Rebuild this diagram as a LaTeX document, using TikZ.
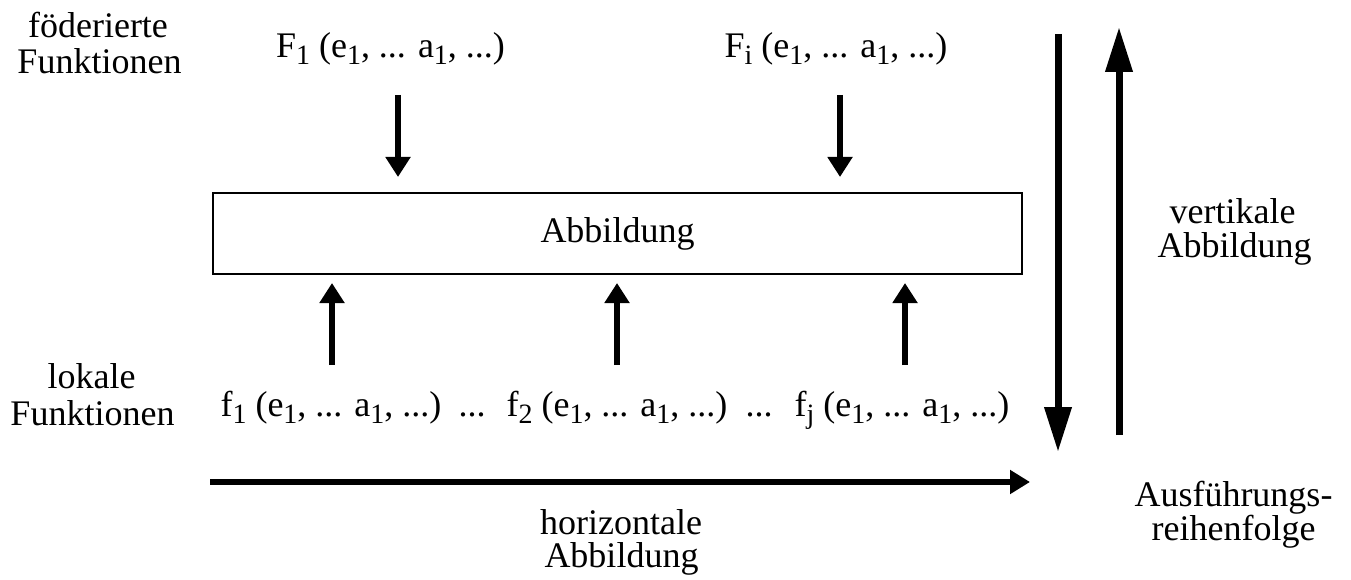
\documentclass[tikz,border=0pt]{standalone}
\usepackage{fontspec}
\setmainfont{Liberation Serif}
\usetikzlibrary{arrows.meta}
\newcommand{\sbs}[1]{\raisebox{-7pt}{\fontsize{28}{28}\selectfont #1}}
\tikzset{
  lbl/.style={font=\fontsize{36}{40}\selectfont, inner sep=0pt, anchor=base},
  smallarr/.style={line width=6pt, -{Triangle[length=20pt,width=24pt]}},
  bigarr/.style={line width=7pt, -{Triangle[length=45pt,width=26pt]}},
  mapbox/.style={draw, line width=2pt, minimum width=809pt, minimum height=81pt, inner sep=0pt, font=\fontsize{36}{40}\selectfont}
}
\begin{document}
\begin{tikzpicture}[x=1pt,y=-1pt]
\useasboundingbox (0,0) rectangle (1351,580);
% left labels
\node[lbl] (fed1) at (98,38) {föderierte};
\node[lbl] (fed2) at (99.5,74) {Funktionen};
\node[lbl] (lok1) at (91.5,388) {lokale};
\node[lbl] (lok2) at (92.5,425) {Funktionen};
% federated functions
\node[lbl] (F1) at (390.5,58) {F\sbs{1} (e\sbs{1}, ... a\sbs{1}, ...)};
\node[lbl] (Fi) at (836,58) {F\sbs{i} (e\sbs{1}, ... a\sbs{1}, ...)};
% box
\node[mapbox] (box) at (617.5,233.5) {Abbildung};
% local functions
\node[lbl] (f1) at (331,416) {f\sbs{1} (e\sbs{1}, ... a\sbs{1}, ...)};
\node[lbl] (f2) at (617,416) {f\sbs{2} (e\sbs{1}, ... a\sbs{1}, ...)};
\node[lbl] (fj) at (902,416) {f\sbs{j} (e\sbs{1}, ... a\sbs{1}, ...)};
\node[lbl] (d1) at (472,416) {...};
\node[lbl] (d2) at (759,416) {...};
% right labels
\node[lbl] (v1) at (1232.5,223) {vertikale};
\node[lbl] (v2) at (1234.5,257) {Abbildung};
\node[lbl] (h1) at (621,534) {horizontale};
\node[lbl] (h2) at (621.5,567) {Abbildung};
\node[lbl] (a1) at (1233.5,506) {Ausführungs-};
\node[lbl] (a2) at (1233.5,540) {reihenfolge};
% arrows down from federated functions
\coordinate (F1s) at (398,95);
\coordinate (Fis) at (840,95);
\draw[smallarr] (F1s) -- (F1s |- 0,177);
\draw[smallarr] (Fis) -- (Fis |- 0,177);
% arrows up from local functions
\coordinate (f1s) at (332,365);
\coordinate (f2s) at (617,365);
\coordinate (fjs) at (905,365);
\draw[smallarr] (f1s) -- (f1s |- 0,283);
\draw[smallarr] (f2s) -- (f2s |- 0,283);
\draw[smallarr] (fjs) -- (fjs |- 0,283);
% big vertical arrows
\coordinate (vd0) at (1058,34);
\coordinate (vd1) at (1058,452);
\coordinate (vu0) at (1119,435);
\coordinate (vu1) at (1119,27);
\draw[bigarr] (vd0) -- (vd1);
\draw[bigarr] (vu0) -- (vu1);
% horizontal arrow
\coordinate (h0) at (210,482);
\coordinate (hh) at (1030,482);
\draw[line width=6pt, -{Triangle[length=20pt,width=23pt]}] (h0) -- (hh);
\end{tikzpicture}
\end{document}
